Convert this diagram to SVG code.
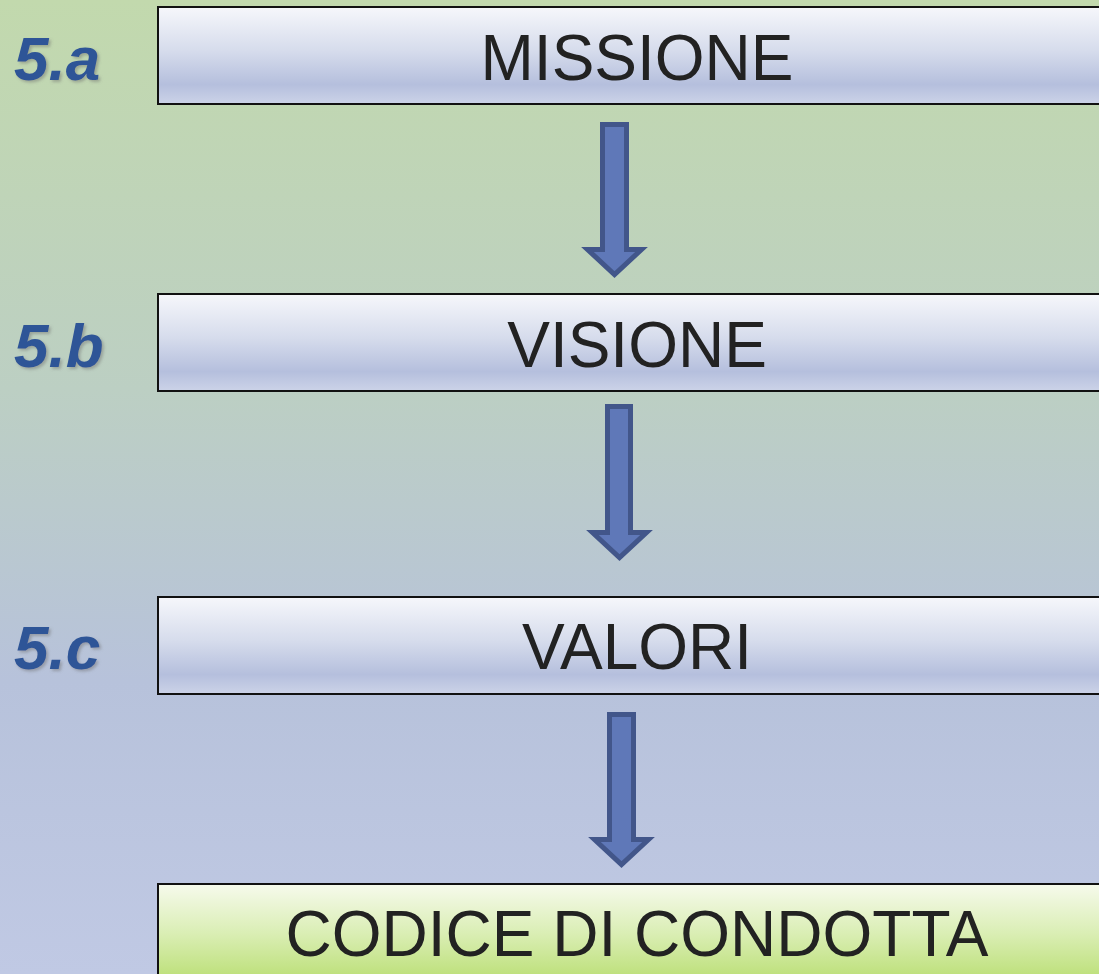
<svg xmlns="http://www.w3.org/2000/svg" width="1099" height="974" viewBox="0 0 1099 974">
  <defs>
    <linearGradient id="bg" x1="0" y1="0" x2="0" y2="1">
      <stop offset="0" stop-color="#c2d9ad"/>
      <stop offset="0.4" stop-color="#bccfc3"/>
      <stop offset="0.7" stop-color="#b7c2db"/>
      <stop offset="1" stop-color="#c0c9e4"/>
    </linearGradient>
    <linearGradient id="boxBlue" x1="0" y1="0" x2="0" y2="1">
      <stop offset="0" stop-color="#f6f7fb"/>
      <stop offset="0.45" stop-color="#d6dcec"/>
      <stop offset="0.8" stop-color="#b5bfdd"/>
      <stop offset="1" stop-color="#ccd3e8"/>
    </linearGradient>
    <linearGradient id="boxGreen" x1="0" y1="0" x2="0" y2="1">
      <stop offset="0" stop-color="#f6faec"/>
      <stop offset="0.45" stop-color="#daeeb4"/>
      <stop offset="0.85" stop-color="#bde07a"/>
      <stop offset="1" stop-color="#c5e488"/>
    </linearGradient>
    <filter id="sh" x="-20%" y="-20%" width="140%" height="140%">
      <feDropShadow dx="2" dy="2" stdDeviation="1.5" flood-color="#6a6a6a" flood-opacity="0.45"/>
    </filter>
  </defs>
  <style>
    .box { stroke: #111; stroke-width: 2; }
    .lbl { font-family: "Liberation Sans", Arial, sans-serif; font-size: 64px; fill: #222; text-anchor: middle; }
    .num { font-family: "Liberation Sans", Arial, sans-serif; font-size: 62px; font-weight: bold; font-style: italic; fill: #2e5597; filter: url(#sh); }
    .arrow { fill: #5f78b8; stroke: #42568a; stroke-width: 5; stroke-linejoin: miter; }
  </style>
  <rect x="0" y="0" width="1099" height="974" fill="url(#bg)"/>

  <g id="connectors">
    <path class="arrow" d="M602.5,124.5 H626.5 V249.5 H641.5 L614.5,274.5 L587.5,249.5 H602.5 Z"/>
    <path class="arrow" d="M607.5,406.5 H630.5 V532.5 H646.5 L619.5,557.5 L592.5,532.5 H607.5 Z"/>
    <path class="arrow" d="M609.5,714.5 H633.5 V839.5 H648.5 L621.5,864.5 L594.5,839.5 H609.5 Z"/>
  </g>

  <g id="missione">
    <rect class="box" x="158" y="7" width="960" height="97" fill="url(#boxBlue)"/>
    <text class="lbl" x="637" y="80">MISSIONE</text>
  </g>
  <g id="visione">
    <rect class="box" x="158" y="294" width="960" height="97" fill="url(#boxBlue)"/>
    <text class="lbl" x="637" y="367">VISIONE</text>
  </g>
  <g id="valori">
    <rect class="box" x="158" y="597" width="960" height="97" fill="url(#boxBlue)"/>
    <text class="lbl" x="637" y="669">VALORI</text>
  </g>
  <g id="codice">
    <rect class="box" x="158" y="884" width="960" height="110" fill="url(#boxGreen)"/>
    <text class="lbl" x="637" y="956">CODICE DI CONDOTTA</text>
  </g>

  <g id="labels">
    <text class="num" x="14" y="80">5.a</text>
    <text class="num" x="14" y="367">5.b</text>
    <text class="num" x="14" y="669">5.c</text>
  </g>
</svg>
